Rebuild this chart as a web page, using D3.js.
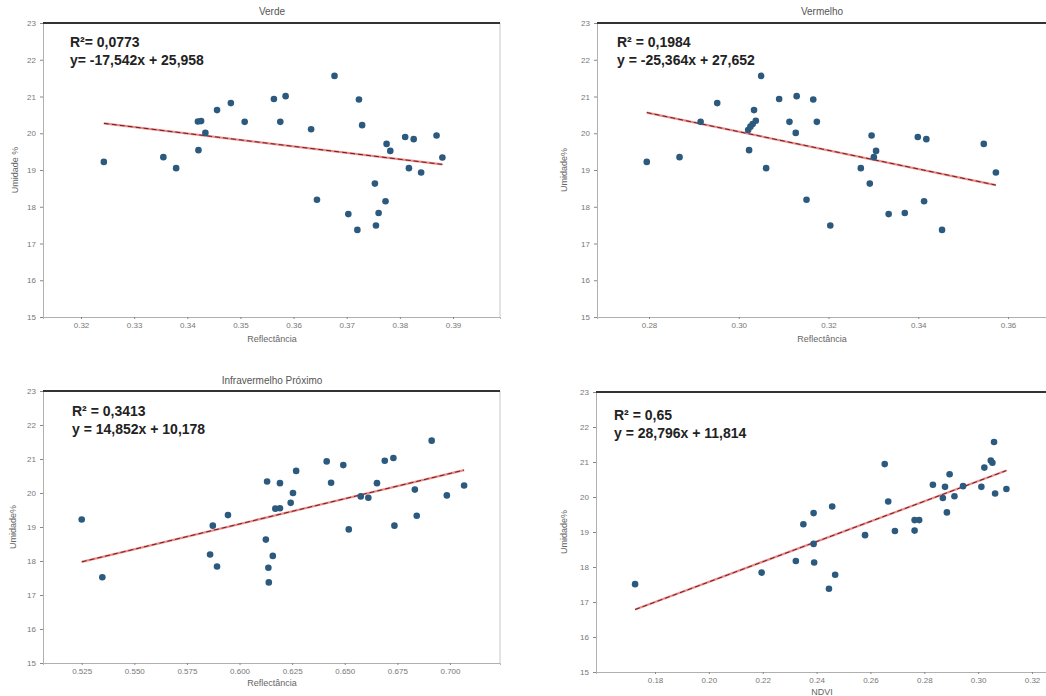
<!DOCTYPE html>
<html><head><meta charset="utf-8">
<script src="https://cdn.jsdelivr.net/npm/d3@7"></script>
<style>
body{margin:0;background:#fff;}
svg{display:block;}
</style></head>
<body>
<svg id="chart" width="1046" height="696"></svg>
<script>
// ---- Data ----
const verdeX = [0.3243,0.3355,0.3379,0.3421,0.3420,0.3426,0.3434,0.3456,0.3482,0.3508,0.3563,0.3575,0.3585,0.3633,0.3644,0.3677,0.3703,0.3720,0.3723,0.3729,0.3753,0.3755,0.3760,0.3773,0.3775,0.3782,0.3810,0.3817,0.3826,0.3840,0.3869,0.3880];
const verdeY = [19.22,19.35,19.05,19.54,20.32,20.33,20.01,20.63,20.82,20.31,20.93,20.31,21.01,20.11,18.19,21.56,17.80,17.37,20.92,20.22,18.63,17.49,17.83,18.15,19.71,19.52,19.90,19.05,19.84,18.93,19.94,19.34];

const vermX = [0.2795,0.2868,0.2915,0.2952,0.3023,0.3021,0.3026,0.3031,0.3034,0.3038,0.3050,0.3061,0.3090,0.3113,0.3127,0.3129,0.3151,0.3166,0.3174,0.3204,0.3272,0.3292,0.3296,0.3306,0.3301,0.3334,0.3370,0.3399,0.3413,0.3418,0.3453,0.3546,0.3573];
const vermY = [19.22,19.35,20.31,20.82,19.54,20.09,20.18,20.25,20.63,20.34,21.56,19.05,20.93,20.31,20.01,21.01,18.19,20.92,20.31,17.49,19.05,18.63,19.94,19.52,19.35,17.80,17.83,19.90,18.15,19.84,17.37,19.71,18.93];

const nirX = [0.5250,0.5348,0.5860,0.5873,0.5893,0.5945,0.6125,0.6131,0.6137,0.6139,0.6158,0.6170,0.6192,0.6192,0.6243,0.6254,0.6269,0.6414,0.6435,0.6493,0.6519,0.6576,0.6612,0.6653,0.6690,0.6731,0.6736,0.6833,0.6842,0.6913,0.6985,0.7067];
const nirY = [19.22,17.52,18.19,19.04,17.84,19.35,18.63,20.34,17.80,17.37,18.15,19.54,19.55,20.29,19.71,20.00,20.65,20.93,20.30,20.82,18.93,19.90,19.86,20.29,20.95,21.03,19.04,20.10,19.33,21.54,19.93,20.22];

const ndviX = [0.1726,0.2196,0.2323,0.2351,0.2389,0.2389,0.2391,0.2446,0.2458,0.2469,0.2580,0.2653,0.2666,0.2691,0.2764,0.2764,0.2781,0.2832,0.2869,0.2877,0.2884,0.2894,0.2912,0.2944,0.3012,0.3023,0.3047,0.3053,0.3059,0.3063,0.3105];
const ndviY = [17.51,17.84,18.17,19.22,19.54,18.66,18.13,17.38,19.73,17.78,18.91,20.94,19.87,19.03,19.04,19.34,19.34,20.35,19.97,20.29,19.56,20.65,20.02,20.31,20.29,20.84,21.04,20.98,21.57,20.10,20.23];

const titles = ["Verde", "Vermelho", "Infravermelho Próximo", ""];
const xLabels = ["Reflectância", "Reflectância", "Reflectância", "NDVI"];
const yLabels = ["Umidade %", "Umidade%", "Umidade%", "Umidade%"];
const r2Texts = ["R²= 0,0773", "R² = 0,1984", "R² = 0,3413", "R² = 0,65"];
const eqTexts = ["y= -17,542x + 25,958", "y = -25,364x + 27,652", "y = 14,852x + 10,178", "y = 28,796x + 11,814"];
const slopes = [-17.542, -25.364, 14.852, 28.796];
const intercepts = [25.958, 27.652, 10.178, 11.814];
const xTicks = [
  [0.32,0.33,0.34,0.35,0.36,0.37,0.38,0.39],
  [0.28,0.30,0.32,0.34,0.36],
  [0.525,0.550,0.575,0.600,0.625,0.650,0.675,0.700],
  [0.18,0.20,0.22,0.24,0.26,0.28,0.30,0.32]
];
const xTickFormats = [".2f", ".2f", ".3f", ".2f"];
const xDomains = [[0.31285,0.39884],[0.26841,0.37025],[0.50661,0.72376],[0.15809,0.32817]];
const yTicks = [15,16,17,18,19,20,21,22,23];
const yDomain = [15, 23];

const xs = [verdeX, vermX, nirX, ndviX];
const ys = [verdeY, vermY, nirY, ndviY];

// ---- Layout ----
const panels = [
  {left:43, right:500, top:23, bottom:317, cx:272, titleY:15, xlabY:342, ylabX:18, textX:70, r2Y:47, eqY:65},
  {left:597, right:1054, top:23, bottom:317, cx:822, titleY:15, xlabY:342, ylabX:567, textX:617, r2Y:47, eqY:65},
  {left:43, right:500, top:391, bottom:663, cx:272, titleY:384, xlabY:686, ylabX:16, textX:72, r2Y:416, eqY:434},
  {left:596, right:1054, top:392, bottom:672, cx:822, titleY:384, xlabY:695, ylabX:567, textX:614, r2Y:420, eqY:438}
];

const svg = d3.select("#chart");
const font = "'Liberation Sans', Arial, sans-serif";

panels.forEach((p, i) => {
  const g = svg.append("g");
  const x = d3.scaleLinear().domain(xDomains[i]).range([p.left, p.right]);
  const y = d3.scaleLinear().domain(yDomain).range([p.bottom, p.top]);

  // axes
  const xa = g.append("g").attr("transform", `translate(0,${p.bottom})`)
    .call(d3.axisBottom(x).tickValues(xTicks[i]).tickFormat(d3.format(xTickFormats[i])).tickSize(2).tickPadding(3));
  const ya = g.append("g").attr("transform", `translate(${p.left},0)`)
    .call(d3.axisLeft(y).tickValues(yTicks).tickFormat(d3.format("d")).tickSize(3).tickPadding(4));
  [xa, ya].forEach(a => {
    a.select(".domain").attr("stroke", "#b0b0b0").attr("stroke-width", 1);
    a.selectAll(".tick line").attr("stroke", "#888");
    a.selectAll(".tick text").attr("fill", "#777").style("font-size", "8px").style("font-family", font);
  });
  // right spine (light) and top spine (thick dark)
  g.append("line").attr("x1", p.right).attr("x2", p.right).attr("y1", p.top).attr("y2", p.bottom)
    .attr("stroke", "#c8c8c8").attr("stroke-width", 1);
  g.append("line").attr("x1", p.left).attr("x2", p.right).attr("y1", p.top).attr("y2", p.top)
    .attr("stroke", "#333").attr("stroke-width", 2);

  // title
  if (titles[i]) {
    g.append("text").attr("x", p.cx).attr("y", p.titleY).attr("text-anchor", "middle")
      .attr("fill", "#555").style("font-size", "10px").style("font-family", font).text(titles[i]);
  }
  // axis labels
  g.append("text").attr("x", p.cx).attr("y", p.xlabY).attr("text-anchor", "middle")
    .attr("fill", "#666").style("font-size", "9px").style("font-family", font).text(xLabels[i]);
  g.append("text").attr("transform", `translate(${p.ylabX},${(p.top + p.bottom) / 2}) rotate(-90)`)
    .attr("text-anchor", "middle").attr("fill", "#666").style("font-size", "9px").style("font-family", font).text(yLabels[i]);

  // trend line
  const ext = d3.extent(xs[i]);
  const lineData = ext.map(v => [v, slopes[i] * v + intercepts[i]]);
  const line = d3.line().x(d => x(d[0])).y(d => y(d[1]));
  g.append("path").datum(lineData).attr("d", line).attr("stroke", "#f08a8a").attr("stroke-width", 2.2).attr("fill", "none");
  g.append("path").datum(lineData).attr("d", line).attr("stroke", "#6a2020").attr("stroke-width", 1).attr("stroke-dasharray", "5,3").attr("fill", "none");

  // points
  g.append("g").selectAll("circle").data(xs[i].map((v, k) => [v, ys[i][k]])).join("circle")
    .attr("cx", d => x(d[0])).attr("cy", d => y(d[1])).attr("r", 3.3)
    .attr("fill", "#2b5a7e");

  // equation texts
  g.append("text").attr("x", p.textX).attr("y", p.r2Y).attr("fill", "#222")
    .style("font-size", "14px").style("font-weight", "bold").style("font-family", font).text(r2Texts[i]);
  g.append("text").attr("x", p.textX).attr("y", p.eqY).attr("fill", "#222")
    .style("font-size", "14px").style("font-weight", "bold").style("font-family", font).text(eqTexts[i]);
});
</script>
</body></html>
